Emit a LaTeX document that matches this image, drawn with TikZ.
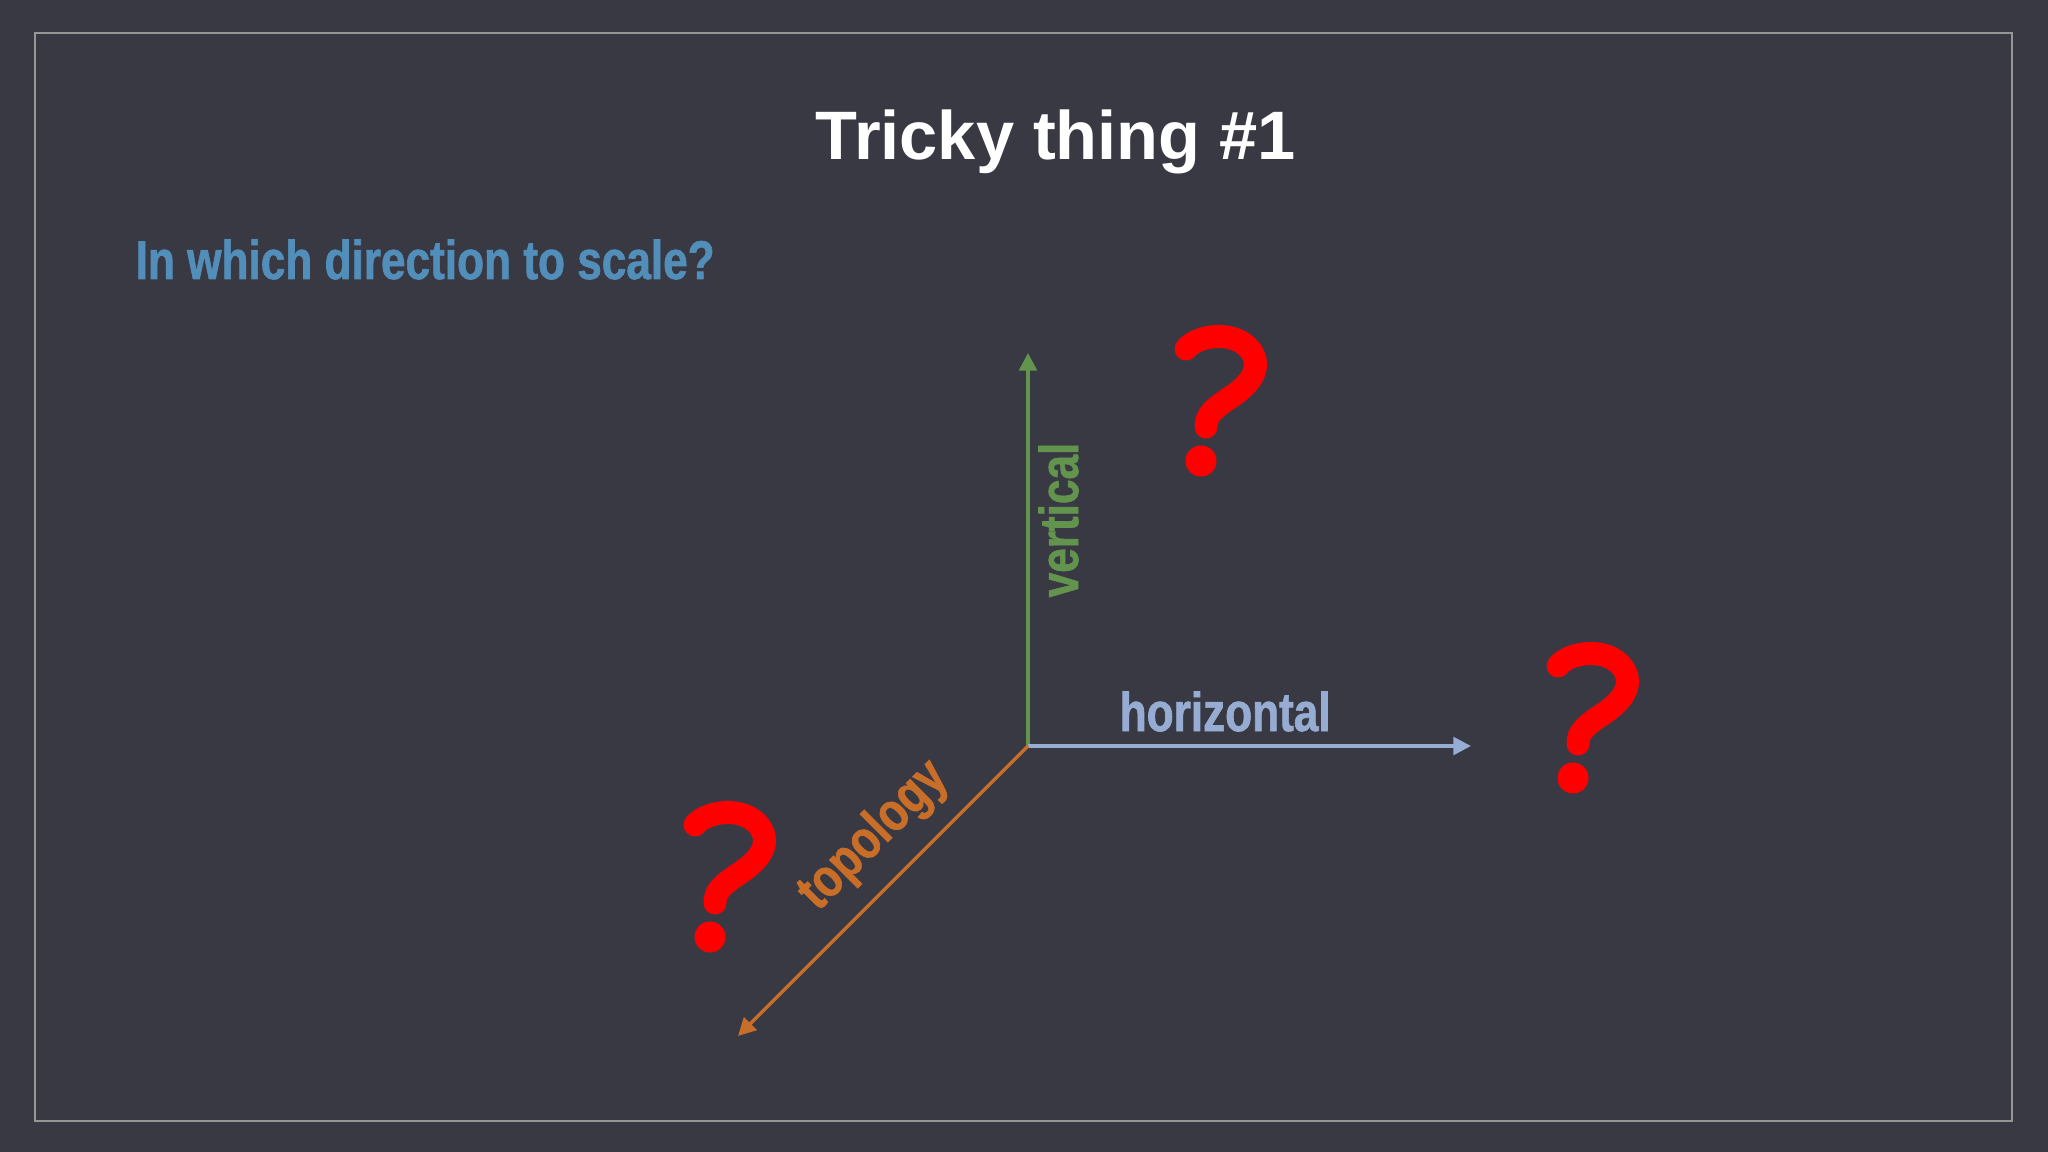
\documentclass[tikz,border=0pt]{standalone}
\usepackage{fontspec}
\setmainfont{Liberation Sans}
\newfontfamily\condfont{Liberation Sans Bold}[FakeStretch=0.81, FakeBold=1.2]
\usetikzlibrary{arrows.meta}

\definecolor{bgcol}{RGB}{57,57,68}
\definecolor{framecol}{RGB}{150,150,148}
\definecolor{asktext}{RGB}{82,142,186}
\definecolor{vertcol}{RGB}{98,148,78}
\definecolor{horzcol}{RGB}{150,172,210}
\definecolor{topocol}{RGB}{200,110,40}
\definecolor{qred}{RGB}{255,0,0}

\tikzset{
  axis/.style={line width=0.035cm, -{Triangle[length=5pt,width=5pt]}},
  axislabel/.style={font=\condfont\fontsize{15.5}{18}\selectfont, inner sep=0pt},
  qmark/.pic={
    \draw[qred, line width=0.23cm, line cap=round]
      (13,22) .. controls (24,8) and (62,2) .. (78,24)
      .. controls (90,42) and (76,58) .. (58,70)
      .. controls (40,82) and (33,88) .. (33,100);
    \fill[qred] (28,134) circle (0.155cm);
  }
}

\begin{document}
\begin{tikzpicture}[x=0.01cm,y=-0.01cm]

\fill[bgcol] (0,0) rectangle (2048,1152);
\useasboundingbox (0,0) rectangle (2048,1152);
\draw[framecol, line width=0.02cm] (35,33) rectangle (2012,1121);

\node[white, font=\bfseries\fontsize{19.5}{23}\selectfont, anchor=base, inner sep=0pt]
  (title) at (1056,160) {Tricky thing \#1};
\node[asktext, axislabel, anchor=base west] (ask) at (135,279) {In which direction to scale?};

% the three axes
\coordinate (o) at (1028,746);
\coordinate (v) at (1028,353);
\coordinate (h) at (1471,746);
\coordinate (t) at (738,1036);

\draw[axis, vertcol] (o) -- (v);
\draw[axis, horzcol] (o) -- (h);
\draw[axis, topocol] (o) -- (t);

\node[vertcol, axislabel, rotate=90, anchor=base] (vlabel) at (1078,520) {vertical};
\node[horzcol, axislabel, anchor=base west] (hlabel) at (1119,731) {horizontal};
\node[topocol, axislabel, rotate=45, anchor=base] (tlabel) at (884,846) {topology};

% question marks
\pic (q1) at (1173,327) {qmark};
\pic (q2) at (1545,644) {qmark};
\pic (q3) at (682,803) {qmark};

\end{tikzpicture}
\end{document}
